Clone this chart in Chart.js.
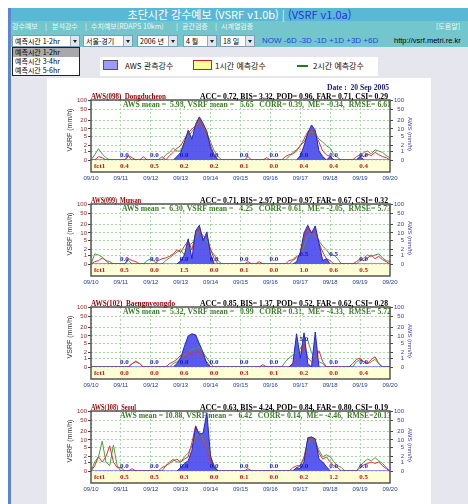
<!DOCTYPE html>
<html lang="ko"><head><meta charset="utf-8">
<title>VSRF</title>
<script src="https://cdn.jsdelivr.net/npm/chart.js@4.4.1/dist/chart.umd.min.js"></script>
<style>
*{box-sizing:border-box;}
html,body{margin:0;padding:0;background:#fff;}
#page{position:relative;width:468px;height:504px;overflow:hidden;background:#fff;font-family:"Noto Sans CJK KR","Liberation Sans",sans-serif;}
.a{position:absolute;white-space:nowrap;}
#gray{left:11px;top:47px;width:457px;height:457px;background:#e6e6ee;}
#bar{left:8px;top:8px;width:3px;height:496px;background:#5b86cf;}
#hd1{left:11px;top:8px;width:457px;height:13px;background:#58b8d6;}
#hd2{left:11px;top:21px;width:457px;height:26px;background:#72c6cc;}
#panel{left:47px;top:78px;width:384px;height:426px;background:#fff;}
.title{left:11px;top:8px;width:457px;height:13px;line-height:13px;text-align:center;font-size:11px;color:#fff;}
.menu{top:21px;height:10px;line-height:10px;font-size:7px;color:#eef8f8;}
.sel{top:35px;height:12px;background:#fff;border:1px solid #7f9db9;font-size:7px;line-height:10px;padding-left:2px;color:#000;}
.arr{position:absolute;top:0;right:0;width:9px;height:10px;background:#dfe6f0;border-left:1px solid #9ab;}
.arr i{position:absolute;left:2px;top:4px;width:0;height:0;border-left:2.5px solid transparent;border-right:2.5px solid transparent;border-top:3px solid #222;}
.now{left:262px;top:35px;line-height:12px;font-size:8px;color:#1e44e6;font-family:"Liberation Sans",sans-serif;}
.url{left:394px;top:35px;line-height:12px;font-size:7.5px;color:#000;font-family:"Liberation Sans",sans-serif;}
#drop{left:12px;top:47px;width:68px;height:29px;background:#fff;border:1px solid #222;}
#drop div{height:9px;line-height:9px;font-size:7px;padding-left:2px;color:#000;}
#legend{left:100px;top:57px;width:278px;height:19px;background:#fff;}
.lt{top:60px;line-height:12px;font-size:8px;color:#111;}
canvas{position:absolute;left:47px;}
</style></head>
<body>
<div id="page">
 <div class="a" id="gray"></div>
 <div class="a" id="bar"></div>
 <div class="a" id="hd1"></div>
 <div class="a" id="hd2"></div>
 <div class="a title">초단시간 강수예보 (VSRF v1.0b) <span style="color:#e4eef6">|</span> <span style="color:#2434d8">(VSRF v1.0a)</span></div>
 <div class="a menu" style="left:12px">강수예보</div>
 <div class="a menu" style="left:45px">|</div>
 <div class="a menu" style="left:52px">분석강수</div>
 <div class="a menu" style="left:85px">|</div>
 <div class="a menu" style="left:91px">수치예보(RDAPS 10km)</div>
 <div class="a menu" style="left:176px">|</div>
 <div class="a menu" style="left:182px">공간검증</div>
 <div class="a menu" style="left:215px">|</div>
 <div class="a menu" style="left:221px">시계열검증</div>
 <div class="a menu" style="left:436px">[도움말]</div>
 <div class="a sel" style="left:12px;width:68px">예측시간 1-2hr<div class="arr"><i></i></div></div>
 <div class="a sel" style="left:83px;width:50px">서울-경기<div class="arr"><i></i></div></div>
 <div class="a sel" style="left:137px;width:41px">2006 년<div class="arr"><i></i></div></div>
 <div class="a sel" style="left:183px;width:34px">4 월<div class="arr"><i></i></div></div>
 <div class="a sel" style="left:220px;width:35px">18 일<div class="arr"><i></i></div></div>
 <div class="a now">NOW -6D -3D -1D +1D +3D +6D</div>
 <div class="a url">http://vsrf.metri.re.kr</div>
 <div class="a" id="legend"></div>
 <div class="a" style="left:103px;top:60px;width:15px;height:10px;background:#9c9cff;border:1px solid #555;"></div>
 <div class="a lt" style="left:125px">AWS 관측강수</div>
 <div class="a" style="left:193px;top:60px;width:19px;height:10px;background:#ffff99;border:1px solid #cc2020;"></div>
 <div class="a lt" style="left:215px">1시간 예측강수</div>
 <div class="a" style="left:297px;top:65px;width:11px;height:2px;background:#1e7a1e;"></div>
 <div class="a lt" style="left:313px">2시간 예측강수</div>
 <div class="a" id="panel"></div>
 <div class="a" id="drop"><div style="background:#a9a9a9">예측시간 1-2hr</div><div>예측시간 3-4hr</div><div>예측시간 5-6hr</div></div>
 <canvas id="c0" width="384" height="110" style="top:80px;width:384px;height:110px"></canvas>
 <canvas id="c1" width="384" height="110" style="top:184px;width:384px;height:110px"></canvas>
 <canvas id="c2" width="384" height="110" style="top:287px;width:384px;height:110px"></canvas>
 <canvas id="c3" width="384" height="110" style="top:391px;width:384px;height:110px"></canvas>
</div>
<script>
// ---------- data ----------
const STEP_HOURS = 3;               // one value every 3 hours, 09/10 00h .. 09/20 00h
const DAY_LABELS = ['09/10','09/11','09/12','09/13','09/14','09/15','09/16','09/17','09/18','09/19','09/20'];
const Y_TICKS = [0,1,2,5,10,20,50,100];
const DATE_TEXT = 'Date :  20 Sep 2005';

const STATIONS = ['AWS(098)  Dongducheon','AWS(099)  Munsan','AWS(102)  Baengnyeongdo','AWS(108)  Seoul'];
const SCORES = [
 'ACC= 0.72, BIS= 3.32, POD= 0.96, FAR= 0.71, CSI= 0.29',
 'ACC= 0.71, BIS= 2.97, POD= 0.97, FAR= 0.67, CSI= 0.32',
 'ACC= 0.85, BIS= 1.37, POD= 0.52, FAR= 0.62, CSI= 0.28',
 'ACC= 0.63, BIS= 4.24, POD= 0.84, FAR= 0.80, CSI= 0.19'];
const MEANS = [
 'AWS mean =  5.98, VSRF mean =   5.65   CORR= 0.39,  ME= -0.34,  RMSE= 6.61',
 'AWS mean =  6.30, VSRF mean =   4.25   CORR= 0.61,  ME= -2.05,  RMSE= 5.73',
 'AWS mean =  5.32, VSRF mean =   0.99   CORR= 0.31,  ME= -4.33,  RMSE= 5.72',
 'AWS mean = 10.88, VSRF mean =   6.42   CORR= 0.14,  ME= -4.46,  RMSE=20.13'];

// daily labels for 09/11 .. 09/19
const DAY_OBS_098 = [0,0,0,0,0,0,0,0,0];
const DAY_OBS_099 = [0,0,0,0,0,0,0.5,0.5,0];
const DAY_OBS_102 = [0,0,0,0,0,0,5.0,0,0];
const DAY_OBS_108 = [0,0,0,0,0,0,0,0,0];
const DAY_FCT_098 = [0.4,0.5,0.2,0.2,0.1,0.0,0.4,0.4,0.4];
const DAY_FCT_099 = [0.5,0.0,1.5,0.0,0.1,0.0,1.0,0.6,0.5];
const DAY_FCT_102 = [0.0,0.0,0.6,0.0,0.3,0.1,0.2,0.0,0.4];
const DAY_FCT_108 = [0.5,0.5,0.3,0.0,0.1,0.0,0.2,1.2,0.5];

// AWS observed / 1-hour forecast / 2-hour forecast (mm/h), 8 values per day
const OBS_098 = [
 0,0,0,0,0,0,0,0,  0,0,0,0,0,0,0,0,  0,0,0,0,0,0,0,0.3,
 0.8,3,9,4,15,27,16,8,  1.5,0.4,0,0,0,0,0,0,  0,0,0,0,0,0,0,0,
 0,0,0,0,0,0,0,0,  0.4,2,7,14,9,1,0.3,0,  0.3,0,0,0,0,0,0,0,
 0.3,0,0,0,0,0,0,0,  0];
const F1H_098 = [
 0,0,0.3,0.2,0,0,0,0,  0,0,0.4,0.2,0,0,0.3,0,  0,0,0,0.3,0,0.4,0.8,1.5,
 2,4,7,10,13,22,11,6,  2,0.5,0,0,0,0,0,0,  0,0,0.3,0,0,0,0,0.2,
 0,0,0,0,0.3,0.5,0.6,1,  2,4,8,10,6,3,1,0.5,  0.3,0,0,0,0,0,0,0.3,
 0.5,0.3,0.6,0.4,0.8,0.5,0.3,0.2,  0];
const F2H_098 = [
 0,0.5,1.4,0.6,0.2,0,0,0,  0,0,0.3,0,0,0,0,0,  0,0,0,0,0.5,0.8,1.5,1,
 1,3,5,8,12,18,14,7,  3,1,0.3,0,0,0,0,0,  0,0,0,0,0,0,0,0,
 0,0,0,0,0,0.3,0.8,1.2,  2,3,6,8,7,4,3,2,  1.5,0.5,0.2,0,0,0,0,0,
 0.3,0.8,1,0.6,1.2,1,0.8,0.4,  0.2];

const OBS_099 = [
 0,0,0,0,0,0,0,0,  0,0,0,0,0,0,0,0,  0,0,0,0,0,0,0,0,
 0.3,1,6,0.5,12,19,5,11,  1,0,0,0,0,0,0,0,  0,0,0,0,0,0,0,0,
 0,0,0,0,0,0,0,0.2,  1.5,10,19,10,18,4,0.3,0.5,  0,0,0,0,0,0,0,0,
 0,0,0,0,0,0,0,0,  0];
const F1H_099 = [
 0,0.2,0.3,0.6,0.3,0,0,0,  0,0,0.5,0.3,0.2,0,0,0,  0,0,0.3,0.5,0.6,0.8,1.2,2,
 1.5,3,5,2,10,15,6,8,  2,0.5,0,0,0,0,0,0,  0,0,0.2,0,0,0.2,0,0,
 0,0,0,0,0,0.3,0.4,0.8,  1,6,15,9,12,4,1.5,0.5,  0.3,0,0,0,0,0,0,0.2,
 0.5,0.3,0.6,1,0.5,0.8,0.4,0.2,  0];
const F2H_099 = [
 0,1.2,1,0.7,0.3,0.2,0,0,  0,0,0.3,0,0,0,0,0.3,  0.5,0.2,0,0,0.3,0.6,1,1.5,
 2,1,3,4,6,12,8,5,  2,1,0.3,0,0,0,0,0,  0,0,0,0,0,0,0,0,
 0,0,0,0,0,0,0.3,0.6,  1,3,8,10,8,5,3,2,  1,1,0.5,0,0,0,0,0,
 0.3,0.6,1,0.8,1,1.2,0.6,0.3,  0.2];

const OBS_102 = [
 0,0,0,0,0,0,0,0,  0,0,0,0,0,0,0,0,  0,0,0,0,0,0,0,0.3,
 1,4,10,12,11,5,2,0.3,  0,0,0,0,0,0,0,0,  0,0,0,0,0,0,0,0,
 0,0,0,0,0,0,0.3,12,  1,13,0.3,0,14,0,0,0,  0,0,0,0,0,0,0,0,
 0,0,0,0,0,0,0,0,  0];
const F1H_102 = [
 0,0,0,0,0,0,0,0,  0,0,0,0.3,0.5,0.3,0,0,  0,0,0,0,0,0.3,0.5,0.8,
 1.5,1,2,1.5,2,2.5,1,0.5,  0,0,0,0,0,0,0,0,  0,0,0,0,0,0,0.2,0,
 0,0,0,0,0,0,0.3,0.5,  1,5,1,0.5,0.8,2.5,0.5,0,  0,0,0,0,0,0,0.3,0.8,
 1,0.5,0.3,0.8,1.2,0.3,0,0,  0];
const F2H_102 = [
 0,0,0,0,0,0,0,0,  0,0,0,0.3,0.6,0.3,0,0,  0,0,0,0,0,0,0.3,0.5,
 1,1.5,2,3,3,4,2,1,  0.3,0,0,0,0,0,0,0,  0,0,0,0,0,0,0,0,
 0,0,0,0,0.5,1,1.5,2,  3,6,7,2,1,0.5,0.3,0,  0,0,0,0,0,0,0,0.5,
 0.8,0.5,0.3,0.5,0.8,0.3,0,0,  0];

const OBS_108 = [
 0,0,0,0,0,0,0,0,  0,0,0,0,0,0,0,0,  0,0,0,0,0,0,0,0,
 0.3,0.8,1.2,4,30,16,18,90,  2,0.3,0,0,0,0,0,0,  0,0,0,0,0,0,0,0,
 0,0,0,0,0,0,0,0.3,  0.2,1,12,13,11,1.5,1,0.4,  0,0,0,0,0,0,0,0,
 0,0,0,0,0,0,0,0,  0];
const F1H_108 = [
 0,0.5,2,1,2,6,1,0.3,  0.3,0,0,0.2,0,0,0,0,  0,0,0,0.3,0.5,0.8,1.2,1.5,
 1,1.5,2,8,32,15,9,5,  1,0.3,0,0,0,0,0,0,  0,0,0.2,0,0,0,0,0,
 0,0,0,0,0,0,0.3,0.5,  0.5,2,10,12,8,3,1.5,2,  1,0.5,0.3,0,0,0,0,0,
 0.3,0.6,0.8,1,0.8,1,0.5,0.2,  0];
const F2H_108 = [
 0,1,2,9,1,0.5,6.5,0.5,  0,0,0,0,0,0,0,0,  0,0,0,0,0.5,1,1.5,1,
 1,2,3,6,12,20,10,5,  2,0.5,0,0,0,0,0,0,  0,0,0,0,0,0,0,0,
 0,0,0,0,0,0,0,0.3,  0.5,1.5,7,11,9,4,2,2.5,  2,1,0.5,0.3,0,0,0,0,
 0.5,1,1.5,1.2,1.8,1.2,0.8,0.3,  0];

const OBS = [OBS_098, OBS_099, OBS_102, OBS_108];
const F1H = [F1H_098, F1H_099, F1H_102, F1H_108];
const F2H = [F2H_098, F2H_099, F2H_102, F2H_108];
const DAY_OBS = [DAY_OBS_098, DAY_OBS_099, DAY_OBS_102, DAY_OBS_108];
const DAY_FCT = [DAY_FCT_098, DAY_FCT_099, DAY_FCT_102, DAY_FCT_108];

// ---------- layout / style ----------
const T = v => Math.log10(1 + v);        // log(1+x) rain-rate axis
const Y_MAX = T(100) + 0.01;
const STRIP_H = 12;
const TITLE_W = [75, 50, 84, 45];
const MEANS_W = [268, 269, 268, 271];
const SCORE_W = 188;

function fitText(ctx, text, x, y, width) {
  const w = ctx.measureText(text).width;
  const sx = (width && w > 0) ? width / w : 1;
  ctx.save(); ctx.translate(x, y); ctx.scale(sx, 1); ctx.fillText(text, 0, 0); ctx.restore();
}

function makeDeco(k) {
  return {
    id: 'deco' + k,
    beforeDraw(chart) {
      const {ctx, chartArea: a} = chart;
      ctx.save();
      ctx.font = 'bold 8px "Liberation Serif"';
      ctx.fillStyle = '#3d7a27';
      ctx.textAlign = 'right'; ctx.textBaseline = 'middle';
      fitText(ctx, MEANS[k], a.right + 1, a.top + 5, MEANS_W[k]);
      ctx.restore();
    },
    afterDraw(chart) {
      const {ctx, chartArea: a} = chart;
      const xs = chart.scales.x, ys = chart.scales.y;
      ctx.save();
      // forecast strip
      ctx.fillStyle = '#ffffd6';
      ctx.fillRect(a.left, a.bottom + 0.5, a.right - a.left, STRIP_H - 0.5);
      // frame
      ctx.strokeStyle = '#555'; ctx.lineWidth = 1.5;
      ctx.strokeRect(a.left, a.top, a.right - a.left, a.bottom + STRIP_H - a.top);
      // titles
      ctx.textBaseline = 'alphabetic';
      ctx.font = 'bold 8px "Liberation Serif"';
      ctx.fillStyle = '#990000'; ctx.textAlign = 'left';
      fitText(ctx, STATIONS[k], a.left, a.top - 1.5, TITLE_W[k]);
      ctx.fillStyle = '#000'; ctx.textAlign = 'right';
      fitText(ctx, SCORES[k], a.right - 2, a.top - 1.5, SCORE_W);
      if (k === 0) {
        ctx.font = 'bold 9px "Liberation Serif"';
        ctx.fillStyle = '#1a1a80';
        fitText(ctx, DATE_TEXT, a.right - 1, a.top - 10.5, 62);
      }
      // daily labels
      ctx.font = 'bold 7px "Liberation Serif"';
      ctx.textAlign = 'center';
      for (let d = 0; d < DAY_FCT[k].length; d++) {
        const px = xs.getPixelForValue((d + 1) * 24) + 3.5;
        ctx.fillStyle = '#cc1010'; ctx.textBaseline = 'middle';
        ctx.fillText(DAY_FCT[k][d].toFixed(1), px, a.bottom + 6.5);
        ctx.fillStyle = '#1515cc'; ctx.textBaseline = 'bottom';
        ctx.fillText(DAY_OBS[k][d].toFixed(1), px, ys.getPixelForValue(T(DAY_OBS[k][d])) - 1.5);
      }
      ctx.fillStyle = '#cc1010'; ctx.textAlign = 'left'; ctx.textBaseline = 'middle';
      ctx.fillText('fct1', a.left + 3, a.bottom + 6.5);
      // axis titles
      const cy = (a.top + a.bottom) / 2;
      ctx.font = '7px "Liberation Sans"'; ctx.fillStyle = '#333'; ctx.textAlign = 'center';
      ctx.save(); ctx.translate(23, cy); ctx.rotate(-Math.PI / 2); ctx.fillText('VSRF (mm/h)', 0, 0); ctx.restore();
      ctx.font = '6px "Liberation Sans"'; ctx.fillStyle = '#3a3aa8';
      ctx.save(); ctx.translate(363, cy + 4); ctx.rotate(Math.PI / 2); ctx.fillText('AWS (mm/h)', 0, 0); ctx.restore();
      ctx.restore();
    }
  };
}

const tickFont = {size: 6, family: '"Liberation Sans"'};
const pts = arr => arr.map((v, i) => ({x: i * STEP_HOURS, y: T(v)}));

function makeChart(k) {
  return new Chart(document.getElementById('c' + k), {
    type: 'line',
    data: {datasets: [
      {label: 'AWS 관측강수', data: pts(OBS[k]), borderColor: '#2424c8', backgroundColor: 'rgba(76,76,236,0.92)',
       borderWidth: 1, fill: 'origin', pointRadius: 0, tension: 0, order: 0},
      {label: '1시간 예측강수', data: pts(F1H[k]), borderColor: '#e03030', borderWidth: 1, fill: false, pointRadius: 0, tension: 0, order: 1},
      {label: '2시간 예측강수', data: pts(F2H[k]), borderColor: '#4f9a3f', borderWidth: 1, fill: false, pointRadius: 0, tension: 0, order: 2}
    ]},
    options: {
      responsive: false, animation: false, events: [], devicePixelRatio: 1,
      layout: {padding: {left: 0, right: 27, top: 20, bottom: 0}},
      plugins: {legend: {display: false}, tooltip: {enabled: false}, filler: {drawTime: 'beforeDatasetsDraw'}},
      scales: {
        x: {type: 'linear', position: 'bottom', min: 0, max: (DAY_LABELS.length - 1) * 24,
            afterBuildTicks: s => { s.ticks = DAY_LABELS.map((_, d) => ({value: d * 24})); },
            afterFit: s => { s.height = 30; },
            ticks: {autoSkip: false, maxRotation: 0, padding: 15, color: '#22409a', font: tickFont,
                    callback: (v, i) => DAY_LABELS[i]},
            grid: {color: '#a6d9a0', lineWidth: 1, drawTicks: false},
            border: {display: false, dash: [2, 2]}},
        y: {type: 'linear', position: 'left', min: 0, max: Y_MAX,
            afterBuildTicks: s => { s.ticks = Y_TICKS.map(v => ({value: T(v)})); },
            afterFit: s => { s.width = 44; },
            ticks: {autoSkip: false, padding: 1, color: '#a02828', font: tickFont,
                    callback: (v, i) => String(Y_TICKS[i])},
            grid: {color: '#a6d9a0', tickColor: '#444', tickLength: 3, drawTicks: true},
            border: {display: false, dash: [2, 2]}},
        y2: {type: 'linear', position: 'right', min: 0, max: Y_MAX,
            afterBuildTicks: s => { s.ticks = Y_TICKS.map(v => ({value: T(v)})); },
            afterFit: s => { s.width = 14; },
            ticks: {autoSkip: false, padding: 1, crossAlign: 'far', color: '#3a3ab0', font: tickFont,
                    callback: (v, i) => String(Y_TICKS[i])},
            grid: {drawOnChartArea: false, tickColor: '#444', tickLength: 3, drawTicks: true},
            border: {display: false}}
      }
    },
    plugins: [makeDeco(k)]
  });
}
[0, 1, 2, 3].forEach(makeChart);
</script>
</body></html>
